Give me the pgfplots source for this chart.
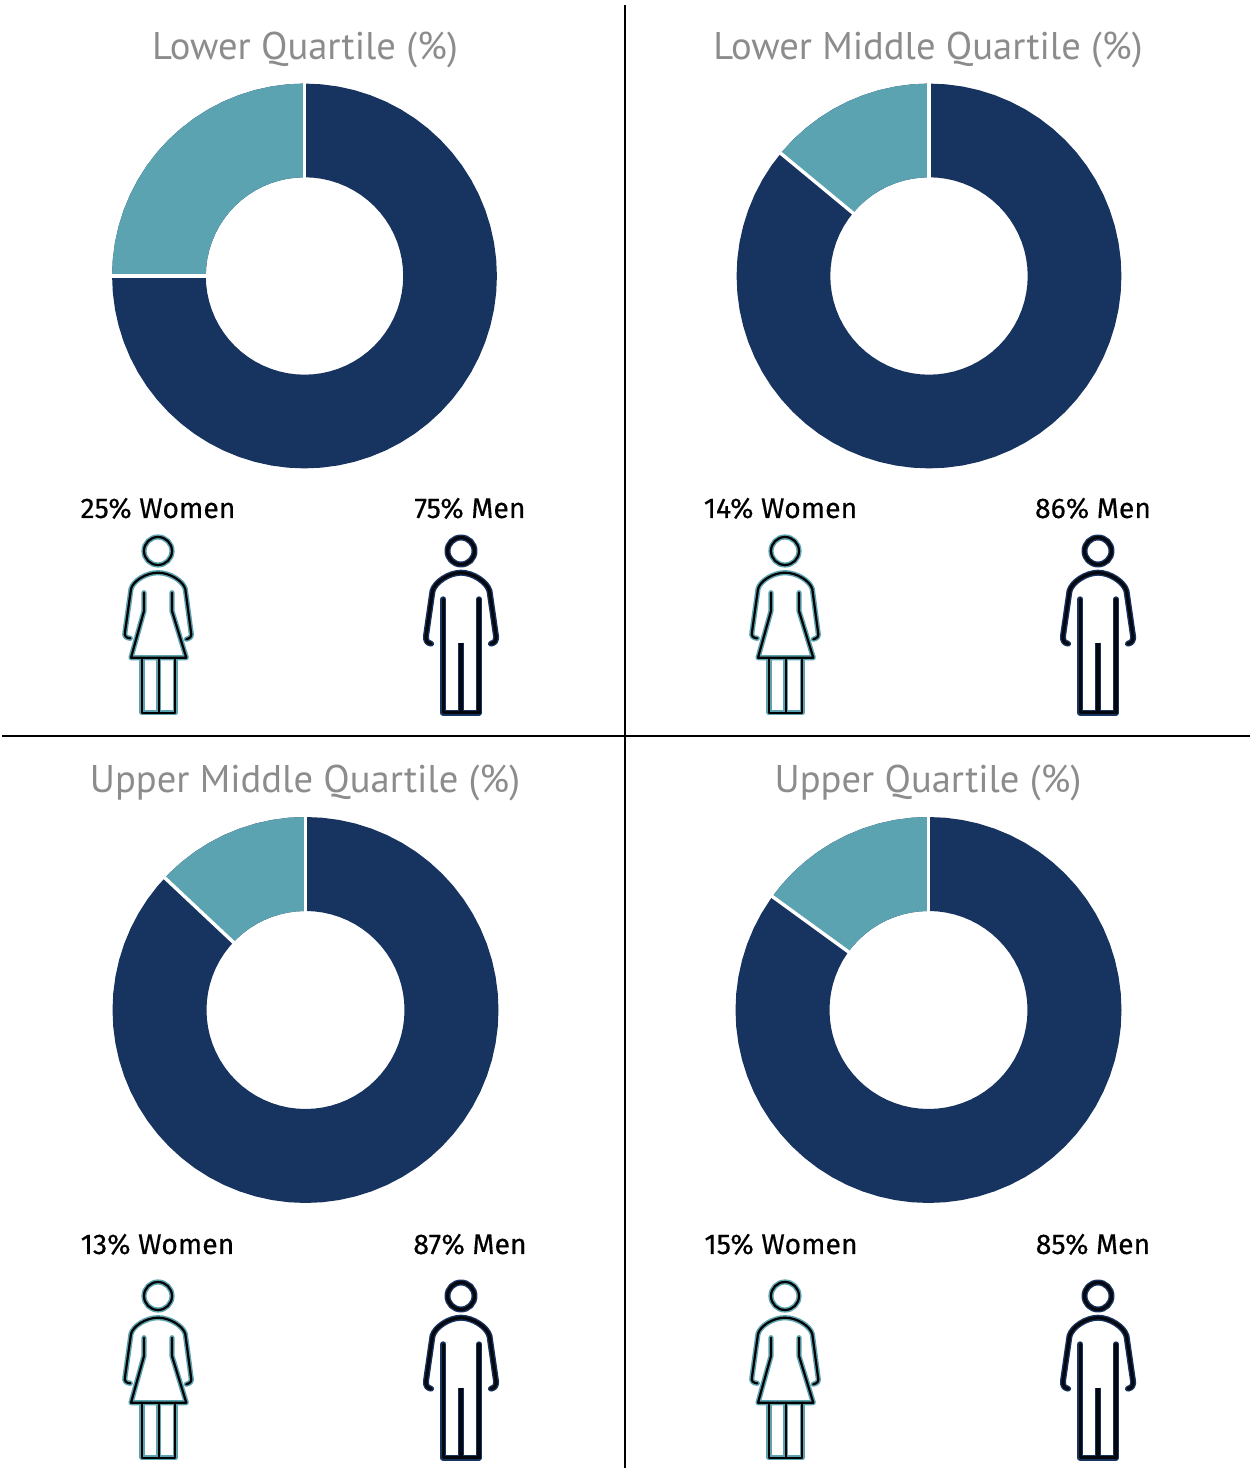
\documentclass[border=0pt]{standalone}
\usepackage{fontspec}
\setmainfont{PT Sans}
\newfontfamily\lab[FakeBold=0.35]{Fira Sans}
\usepackage{pgfplots}
\usepackage{pgfplotstable}
\pgfplotsset{compat=1.18}
\definecolor{navy}{HTML}{17335F}
\definecolor{teal}{HTML}{5BA3B0}
\definecolor{tgrey}{HTML}{8C8C8C}
\pgfplotstableread[row sep=\\]{
a r\\
90 193\\95 193\\100 193\\105 193\\110 193\\115 193\\120 193\\125 193\\130 193\\135 193\\140 193\\145 193\\150 193\\155 193\\160 193\\165 193\\170 193\\175 193\\180 193\\185 193\\190 193\\195 193\\200 193\\205 193\\210 193\\215 193\\220 193\\225 193\\230 193\\235 193\\240 193\\245 193\\250 193\\255 193\\260 193\\265 193\\270 193\\275 193\\280 193\\285 193\\290 193\\295 193\\300 193\\305 193\\310 193\\315 193\\320 193\\325 193\\330 193\\335 193\\340 193\\345 193\\350 193\\355 193\\360 193\\365 193\\370 193\\375 193\\380 193\\385 193\\390 193\\395 193\\400 193\\405 193\\410 193\\415 193\\420 193\\425 193\\430 193\\435 193\\440 193\\445 193\\450 193\\
450 99\\445 99\\440 99\\435 99\\430 99\\425 99\\420 99\\415 99\\410 99\\405 99\\400 99\\395 99\\390 99\\385 99\\380 99\\375 99\\370 99\\365 99\\360 99\\355 99\\350 99\\345 99\\340 99\\335 99\\330 99\\325 99\\320 99\\315 99\\310 99\\305 99\\300 99\\295 99\\290 99\\285 99\\280 99\\275 99\\270 99\\265 99\\260 99\\255 99\\250 99\\245 99\\240 99\\235 99\\230 99\\225 99\\220 99\\215 99\\210 99\\205 99\\200 99\\195 99\\190 99\\185 99\\180 99\\175 99\\170 99\\165 99\\160 99\\155 99\\150 99\\145 99\\140 99\\135 99\\130 99\\125 99\\120 99\\115 99\\110 99\\105 99\\100 99\\95 99\\90 99\\
}\ringtable
\pgfplotstableread[row sep=\\]{
a r\\
90 193\\95 193\\100 193\\105 193\\110 193\\115 193\\120 193\\125 193\\130 193\\135 193\\140 193\\145 193\\150 193\\155 193\\160 193\\165 193\\170 193\\175 193\\180 193\\
180 99\\175 99\\170 99\\165 99\\160 99\\155 99\\150 99\\145 99\\140 99\\135 99\\130 99\\125 99\\120 99\\115 99\\110 99\\105 99\\100 99\\95 99\\90 99\\
}\wedgeA
\pgfplotstableread[row sep=\\]{
a r\\
90 193\\95 193\\100 193\\105 193\\110 193\\115 193\\120 193\\125 193\\130 193\\135 193\\140 193\\140.4 193\\
140.4 99\\140 99\\135 99\\130 99\\125 99\\120 99\\115 99\\110 99\\105 99\\100 99\\95 99\\90 99\\
}\wedgeB
\pgfplotstableread[row sep=\\]{
a r\\
90 193\\95 193\\100 193\\105 193\\110 193\\115 193\\120 193\\125 193\\130 193\\135 193\\136.8 193\\
136.8 99\\135 99\\130 99\\125 99\\120 99\\115 99\\110 99\\105 99\\100 99\\95 99\\90 99\\
}\wedgeC
\pgfplotstableread[row sep=\\]{
a r\\
90 193\\95 193\\100 193\\105 193\\110 193\\115 193\\120 193\\125 193\\130 193\\135 193\\140 193\\144 193\\
144 99\\140 99\\135 99\\130 99\\125 99\\120 99\\115 99\\110 99\\105 99\\100 99\\95 99\\90 99\\
}\wedgeD
% one doughnut: centre x, centre y (pixels from the top), scale, wedge table, end angle
\newcommand{\donut}[5]{%
\begin{axis}[hide axis, scale only axis, clip=false, anchor=center,
  at={(#1*0.5pt,{(1468-#2)*0.5pt})},
  x=#3pt, y=#3pt, xmin=-200, xmax=200, ymin=-200, ymax=200]
\addplot[draw=none, fill=navy, data cs=polar, forget plot] table[x=a,y=r] {\ringtable} -- cycle;
\addplot[draw=none, fill=teal, data cs=polar, forget plot] table[x=a,y=r] {#4} -- cycle;
\addplot[white, line width=1.7pt, data cs=polar, forget plot] coordinates {(90,97) (90,195)};
\addplot[white, line width=1.7pt, data cs=polar, forget plot] coordinates {(#5,97) (#5,195)};
\end{axis}}
\newcommand{\woman}[2]{%
\begin{scope}[shift={(#1*0.5pt,{(1468-#2)*0.5pt})},x=0.5pt,y=-0.5pt,line join=round,line cap=round]
\foreach \c/\w in {teal/2.6pt,black/1.1pt}{
\draw[\c,line width=\w] (0,0) circle[radius=14];
\draw[\c,line width=\w] (-27.7,87.3) .. controls (-32,87) and (-34,85) .. (-33,81) -- (-27,38) .. controls (-25,30) and (-12,21.7) .. (0,21.7) .. controls (12,21.7) and (25,30) .. (27.3,38) -- (33,81) .. controls (34,85) and (33,87) .. (28.3,88.3);
\draw[\c,line width=\w] (-14,41.7) -- (-14,60) -- (-27,106.7) -- (28.3,106.7) -- (14,60) -- (14,41.7);
\draw[\c,line width=\w,line cap=butt] (-16,106.7) -- (-16,161.7) -- (17.3,161.7) -- (17.3,106.7) (0.7,106.7) -- (0.7,161.7);
}
\end{scope}}
\newcommand{\man}[2]{%
\begin{scope}[shift={(#1*0.5pt,{(1468-#2)*0.5pt})},x=0.5pt,y=-0.5pt,line join=round,line cap=round]
\foreach \c/\w in {navy/3pt,black!85!navy/1.6pt}{
\draw[\c,line width=\w] (0,0) circle[radius=13.5];
\draw[\c,line width=\w] (-30,92.7) .. controls (-34,92) and (-35.5,89) .. (-35,85) -- (-28.5,40) .. controls (-26,31) and (-12,21.7) .. (0,21.7) .. controls (12,21.7) and (26,31) .. (28.5,40) -- (35,85) .. controls (35.5,89) and (34,92) .. (30,92.7);
\draw[\c,line width=\w] (-17.7,48.3) -- (-17.7,161.7) -- (18,161.7) -- (18,48.3);
\draw[\c,line width=\w,line cap=butt] (0,91.7) -- (0,161.7);
}
\end{scope}}
\newcommand{\ttl}[3]{\node[anchor=base,inner sep=0pt,text=tgrey,font=\fontsize{19.3}{21}\selectfont] at (#1*0.5pt,{(1468-#2)*0.5pt}) {#3};}
\newcommand{\lbl}[3]{\node[anchor=base,inner sep=0pt,text=black,font=\lab\fontsize{14.2}{16}\selectfont] at (#1*0.5pt,{(1468-#2)*0.5pt}) {#3};}
\begin{document}
\begin{tikzpicture}[x=1pt,y=1pt]
\useasboundingbox (0,0) rectangle (625,734);
\donut{304.5}{276}{0.4985}{\wedgeA}{180}
\donut{929}{276}{0.4985}{\wedgeB}{140.4}
\donut{305.5}{1010}{0.5}{\wedgeC}{136.8}
\donut{928.5}{1010}{0.5}{\wedgeD}{144}
\ttl{305}{60}{Lower Quartile (\%)}
\ttl{928}{60}{Lower Middle Quartile (\%)}
\ttl{305}{793}{Upper Middle Quartile (\%)}
\ttl{928}{793}{Upper Quartile (\%)}
\lbl{158}{518}{25\% Women}
\lbl{470}{518}{75\% Men}
\lbl{780.5}{518}{14\% Women}
\lbl{1093}{518}{86\% Men}
\lbl{157.5}{1254}{13\% Women}
\lbl{470}{1254}{87\% Men}
\lbl{781}{1254}{15\% Women}
\lbl{1093}{1254}{85\% Men}
\woman{158}{551}\man{461}{551}\woman{785}{551}\man{1098}{551}
\woman{158}{1296}\man{461}{1296}\woman{785}{1296}\man{1098}{1296}
\draw[black,line width=1pt] (625*0.5,{(1468-5)*0.5}) -- (625*0.5,0);
\draw[black,line width=0.6pt] (1,{(1468-736)*0.5}) -- (625,{(1468-736)*0.5});
\draw[black,line width=1pt] (595*0.5,{(1468-736)*0.5}) -- (640*0.5,{(1468-736)*0.5});
\end{tikzpicture}
\end{document}
